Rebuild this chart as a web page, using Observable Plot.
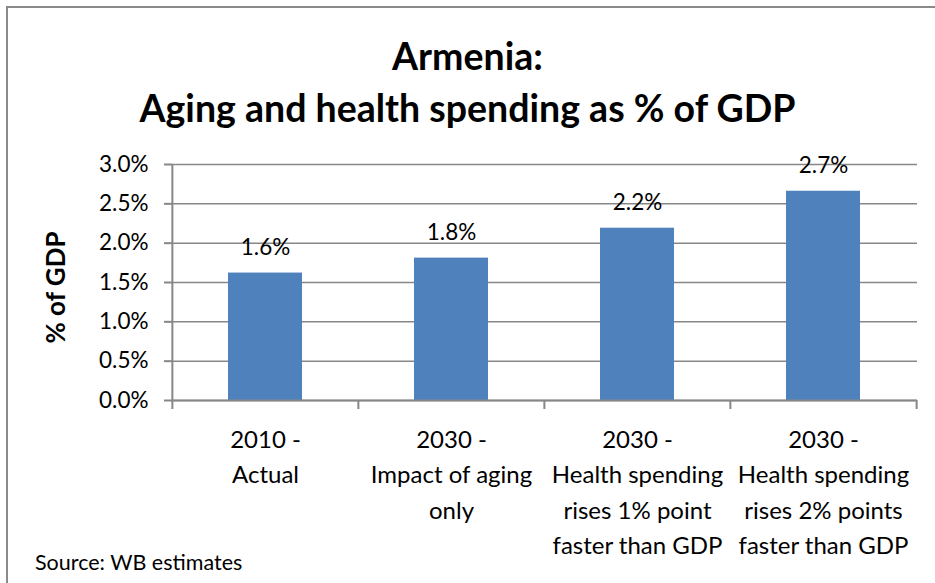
<!DOCTYPE html>
<html>
<head>
<meta charset="utf-8">
<script src="https://cdn.jsdelivr.net/npm/d3@7"></script>
<script src="https://cdn.jsdelivr.net/npm/@observablehq/plot@0.6"></script>
<style>
  html, body { margin: 0; padding: 0; background: #fff; }
  #wrap { position: relative; width: 935px; height: 583px; overflow: hidden; background: #fff; font-family: Lato, "Open Sans", sans-serif; }
  #border { position: absolute; left: 6px; top: 6px; width: 1000px; height: 1000px; border-left: 2px solid #8a8a8a; border-top: 2px solid #8a8a8a; }
  #title { position: absolute; left: 0; top: 30px; width: 935px; text-align: center; font-weight: bold; font-size: 37.5px; line-height: 52px; color: #000; }
  #plot { position: absolute; left: 0; top: 150px; }
  #caption { position: absolute; left: 35px; top: 549px; font-size: 21.5px; color: #000; }
</style>
</head>
<body>
<div id="wrap">
  <div id="border"></div>
  <div id="title">Armenia:<br>Aging and health spending as % of GDP</div>
  <div id="plot"></div>
  <div id="caption">Source: WB estimates</div>
</div>
<script>
const categories = [
  "2010 -\nActual",
  "2030 -\nImpact of aging\nonly",
  "2030 -\nHealth spending\nrises 1% point\nfaster than GDP",
  "2030 -\nHealth spending\nrises 2% points\nfaster than GDP"
];
const values = [1.62, 1.81, 2.19, 2.66];
const yTicks = [0, 0.5, 1.0, 1.5, 2.0, 2.5, 3.0];
const yLabel = "% of GDP";

const data = categories.map((c, i) => ({cat: c, value: values[i]}));
const gray = "#878787";
const step = (917 - 172) / categories.length;

const chart = Plot.plot({
  width: 935,
  height: 433,
  marginTop: 14,
  marginBottom: 183,
  marginLeft: 172,
  marginRight: 18,
  style: {fontFamily: "Lato, 'Open Sans', sans-serif", background: "transparent", overflow: "visible"},
  x: {type: "band", domain: categories, paddingInner: 0.6, paddingOuter: 0.3, axis: null},
  y: {domain: [0, 3], axis: null},
  marks: [
    Plot.gridY(yTicks, {stroke: gray, strokeOpacity: 1, strokeWidth: 1.5}),
    Plot.axisY(yTicks, {tickSize: 8, tickPadding: 16, stroke: gray, strokeWidth: 2, fill: "#000", fontSize: 22.5, tickFormat: d => d.toFixed(1) + "%", label: null}),
    Plot.barY(data, {x: "cat", y: "value", fill: "#4F81BD"}),
    Plot.ruleY([0], {stroke: gray, strokeWidth: 2}),
    Plot.ruleX([categories[0]], {x: d => d, y1: () => 3, y2: () => 0, dx: -step / 2, insetBottom: -9, stroke: gray, strokeWidth: 2}),
    Plot.ruleX(categories.slice(1), {x: d => d, y1: () => 0, y2: () => 0, dx: -step / 2, insetBottom: -9, stroke: gray, strokeWidth: 2}),
    Plot.ruleX(categories.slice(-1), {x: d => d, y1: () => 0, y2: () => 0, dx: step / 2, insetBottom: -9, stroke: gray, strokeWidth: 2}),
    Plot.text(data, {x: "cat", y: "value", text: d => d.value.toFixed(1) + "%", dy: -25, fontSize: 22.5, fill: "#000"}),
    Plot.text(data, {x: "cat", text: "cat", frameAnchor: "bottom", lineAnchor: "top", dy: 22, fontSize: 24, lineHeight: 1.48, fill: "#000"}),
    Plot.text([yLabel], {text: d => d, frameAnchor: "left", textAnchor: "middle", rotate: -90, dx: -116, dy: 5, fontSize: 26, fontWeight: "bold", fill: "#000"})
  ]
});
document.getElementById("plot").appendChild(chart);
</script>
</body>
</html>
